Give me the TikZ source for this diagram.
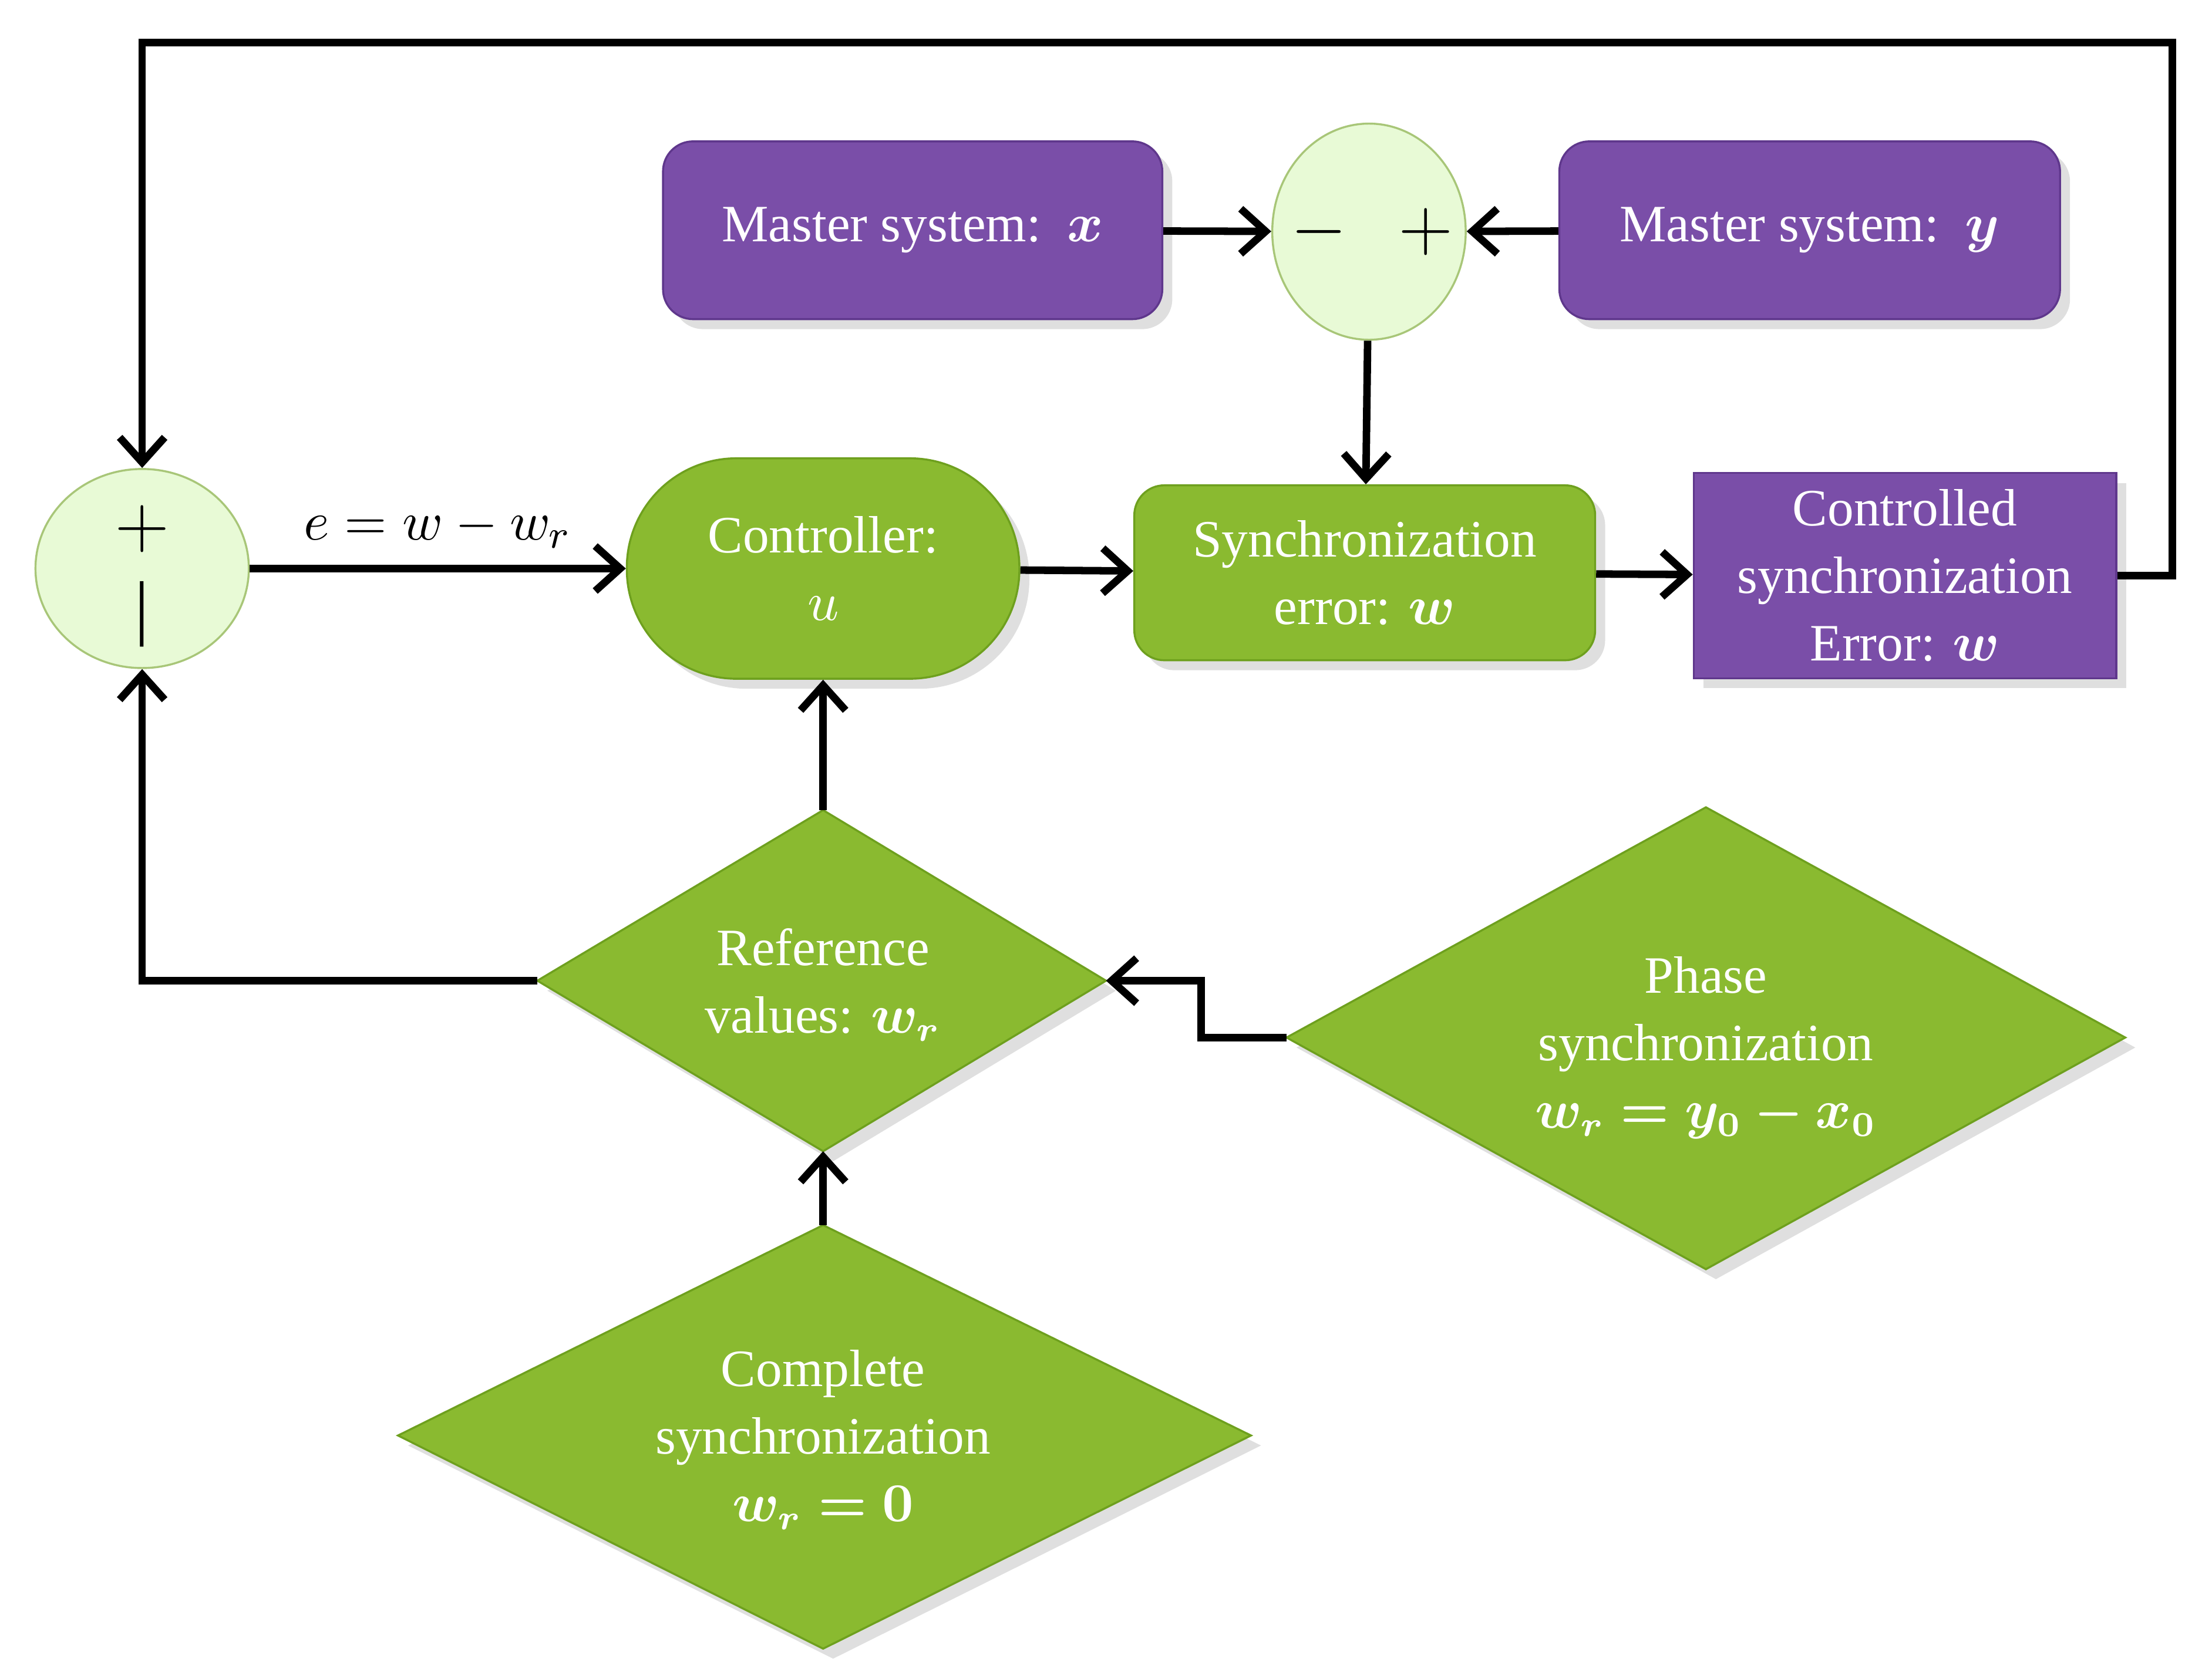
\documentclass[tikz,border=0pt]{standalone}
\usepackage{amsmath,bm}
\usepackage{fontspec}
\setmainfont{Liberation Serif}
\usetikzlibrary{shapes.geometric,arrows.meta,shadows}
\definecolor{grn}{RGB}{138,186,48}
\definecolor{grnd}{RGB}{110,160,30}
\definecolor{lgrn}{RGB}{232,250,214}
\definecolor{prp}{RGB}{122,78,168}
\definecolor{prpd}{RGB}{95,55,140}
\begin{document}
\begin{tikzpicture}[x=0.01cm,y=-0.01cm,
  txt/.style={text=white,font=\fontsize{10.5}{13.5}\selectfont,align=center},
  shd/.style={drop shadow={opacity=0.25,shadow xshift=2pt,shadow yshift=-2pt}},
  gbox/.style={txt,draw=grnd,fill=grn,rounded corners=6pt,shd},
  pbox/.style={txt,draw=prpd,fill=prp,shd},
  dshape/.style={draw=grnd,fill=grn,shd},
  circ/.style={ellipse,draw=grnd!60,fill=lgrn,inner sep=0pt},
  con/.style={line width=1.5pt,-{Straight Barb[length=5pt,width=9pt]}}]
\useasboundingbox (0,0) rectangle (1556,1169);
\node[pbox,rounded corners=6pt,minimum width=3.51cm,minimum height=1.25cm] (mx) at (642,162) {Master system:\ \ $\bm{x}$};
\node[pbox,rounded corners=6pt,minimum width=3.52cm,minimum height=1.25cm] (my) at (1273,162) {Master system:\ \ $\bm{y}$};
\node[circ,minimum width=1.36cm,minimum height=1.52cm] (s1) at (963,163) {};
\node[font=\Large] at (928,163) {$-$};
\node[font=\Large] at (1003,163) {$+$};
\node[circ,minimum width=1.5cm,minimum height=1.4cm] (s2) at (100,400) {};
\node[font=\Large] at (100,372) {$+$};
\node[font=\Large] at (100,432) {|};
\node[gbox,rounded corners=0.77cm,minimum width=2.76cm,minimum height=1.55cm] (ctl) at (579,400) {Controller:\\ $u$};
\node[gbox,minimum width=3.24cm,minimum height=1.23cm] (se) at (960,403) {Synchronization\\ error: $\bm{w}$};
\node[pbox,minimum width=2.97cm,minimum height=1.35cm] (cs) at (1340,405) {Controlled\\ synchronization\\ Error: $\bm{w}$};
% diamonds
\coordinate (refN) at (579,570); \coordinate (refS) at (579,810);
\coordinate (refW) at (378,690); \coordinate (refE) at (778,690);
\path[dshape] (refN) -- (refE) -- (refS) -- (refW) -- cycle;
\node[txt] (ref) at (579,693) {Reference\\ values: $\bm{w_r}$};
\coordinate (phN) at (1200,568); \coordinate (phS) at (1200,893);
\coordinate (phW) at (905,730); \coordinate (phE) at (1495,730);
\path[dshape] (phN) -- (phE) -- (phS) -- (phW) -- cycle;
\node[txt] (ph) at (1200,737) {Phase\\ synchronization\\ $\bm{w_r=y_0-x_0}$};
\coordinate (cpN) at (579,862); \coordinate (cpS) at (579,1160);
\coordinate (cpW) at (280,1010); \coordinate (cpE) at (880,1010);
\path[dshape] (cpN) -- (cpE) -- (cpS) -- (cpW) -- cycle;
\node[txt] (cp) at (579,1013) {Complete\\ synchronization\\ $\bm{w_r=0}$};
\draw[con] (mx) -- (s1);
\draw[con] (my) -- (s1);
\draw[con] (s1) -- (se);
\draw[con] (s2) -- node[above,font=\fontsize{11}{13}\selectfont]{$e=w-w_r$} (ctl);
\draw[con] (ctl) -- (se);
\draw[con] (se) -- (cs);
\draw[con] (cs.east) -- (1528,405) -- (1528,30) -- (100,30) -- (s2.north);
\draw[con] (refW) -- (100,690) -- (s2.south);
\draw[con] (refN) -- (ctl.south);
\draw[con] (cpN) -- (refS);
\draw[con] (phW) -- (845,730) -- (845,690) -- (refE);
\end{tikzpicture}
\end{document}
